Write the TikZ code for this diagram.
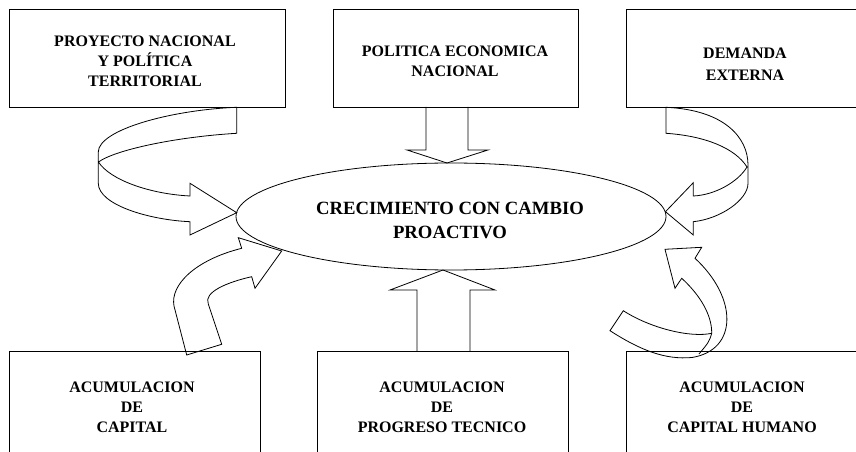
\documentclass[tikz,border=0pt]{standalone}
\usepackage{fontspec}
\setmainfont{Liberation Serif}
\usetikzlibrary{shapes.geometric}
\begin{document}
\begin{tikzpicture}[x=1bp,y=-1bp,line width=0.8bp,
  box/.style={draw,rectangle,inner sep=0pt},
  boxtext/.style={inner sep=0pt,align=center,
    font=\bfseries\fontsize{16bp}{20bp}\selectfont},
  centre/.style={draw,ellipse,inner sep=0pt,
    minimum width=430bp,minimum height=107bp},
  centretext/.style={inner sep=0pt,align=center,
    font=\bfseries\fontsize{18.7bp}{24bp}\selectfont},
  blockarrow/.style={draw,line join=miter}]
\useasboundingbox (0,0) rectangle (856,452);
% top boxes
\node[box,minimum width=276bp,minimum height=98bp] (b1) at (147,58) {};
\node[box,minimum width=245bp,minimum height=98bp] (b2) at (455.5,58) {};
\node[box,minimum width=232bp,minimum height=98bp] (b3) at (742,58) {};
\node[boxtext] (t1) at (145,61.5) {PROYECTO NACIONAL\\Y POLÍTICA\\TERRITORIAL};
\node[boxtext] (t2) at (455,61) {POLITICA ECONOMICA\\NACIONAL};
\node[boxtext,font=\bfseries\fontsize{16bp}{22bp}\selectfont] (t3) at (745,64) {DEMANDA\\EXTERNA};
% bottom boxes
\node[box,minimum width=251bp,minimum height=112bp] (b4) at (134.5,407) {};
\node[box,minimum width=251bp,minimum height=112bp] (b5) at (442.5,407) {};
\node[box,minimum width=232bp,minimum height=112bp] (b6) at (742,407) {};
\node[boxtext] (t4) at (132,407) {ACUMULACION\\DE\\CAPITAL};
\node[boxtext] (t5) at (442,407) {ACUMULACION\\DE\\PROGRESO TECNICO};
\node[boxtext] (t6) at (742,407) {ACUMULACION\\DE\\CAPITAL HUMANO};
% centre
\node[centre] (c) at (451,216.5) {};
\node[centretext] (ct) at (450,220) {CRECIMIENTO CON CAMBIO\\PROACTIVO};
% straight arrow down from b2
\draw[blockarrow] (426,107) -- (426,150) -- (407,150) -- (447,163)
  -- (488,150) -- (468,150) -- (468,107);
% straight arrow up from b5
\draw[blockarrow] (417,352) -- (417,290) -- (390,290) -- (443,270)
  -- (495,290) -- (470,290) -- (470,352);
% curved arrow from b1
\draw[blockarrow] (236.7,107.3) .. controls (170,110) and (98.3,130) .. (98.3,152)
  -- (98.3,183.3) .. controls (98.3,205) and (150,220) .. (190,221.7)
  -- (190,235) -- (236.7,212.7) -- (190,183.3) -- (190,196)
  .. controls (150,194) and (110,180) .. (98.5,162)
  .. controls (115,150) and (175,137) .. (236.7,133.3) -- cycle;
% curved arrow from b3
\draw[blockarrow] (666,107.3) .. controls (725,110) and (748,138) .. (748,165)
  -- (748,183.3) .. controls (748,200) and (720,219) .. (693.3,221.7)
  -- (693.3,235) -- (665.5,211.7) -- (693.3,182.7) -- (693.3,196)
  .. controls (715,195) and (738,182) .. (747,167)
  .. controls (735,148) and (705,136) .. (666,133.3) -- cycle;
% curved arrow from b4
\draw[blockarrow] (186.7,355) -- (174,306)
  .. controls (170,285) and (195,260) .. (241.7,248.3)
  -- (238.3,237.7) -- (281.7,251) -- (255,288.3) -- (251.7,276.7)
  .. controls (228,282) and (203,292) .. (208.3,304)
  -- (221.7,344.3) -- cycle;
% curved arrow from b6
\draw[blockarrow] (610,330.7) .. controls (640,350) and (665,360) .. (692,357.5)
  .. controls (738,350) and (738,298) .. (695,258.3)
  -- (701.7,247.3) -- (665,249.3) -- (675,288.3) -- (681.7,278.3)
  .. controls (700,295) and (712,315) .. (711.7,333.3)
  .. controls (690,338) and (650,328) .. (623.3,310.7) -- cycle;
\draw[blockarrow] (711.7,333.3) .. controls (709,342) .. (699,354);
\end{tikzpicture}
\end{document}
